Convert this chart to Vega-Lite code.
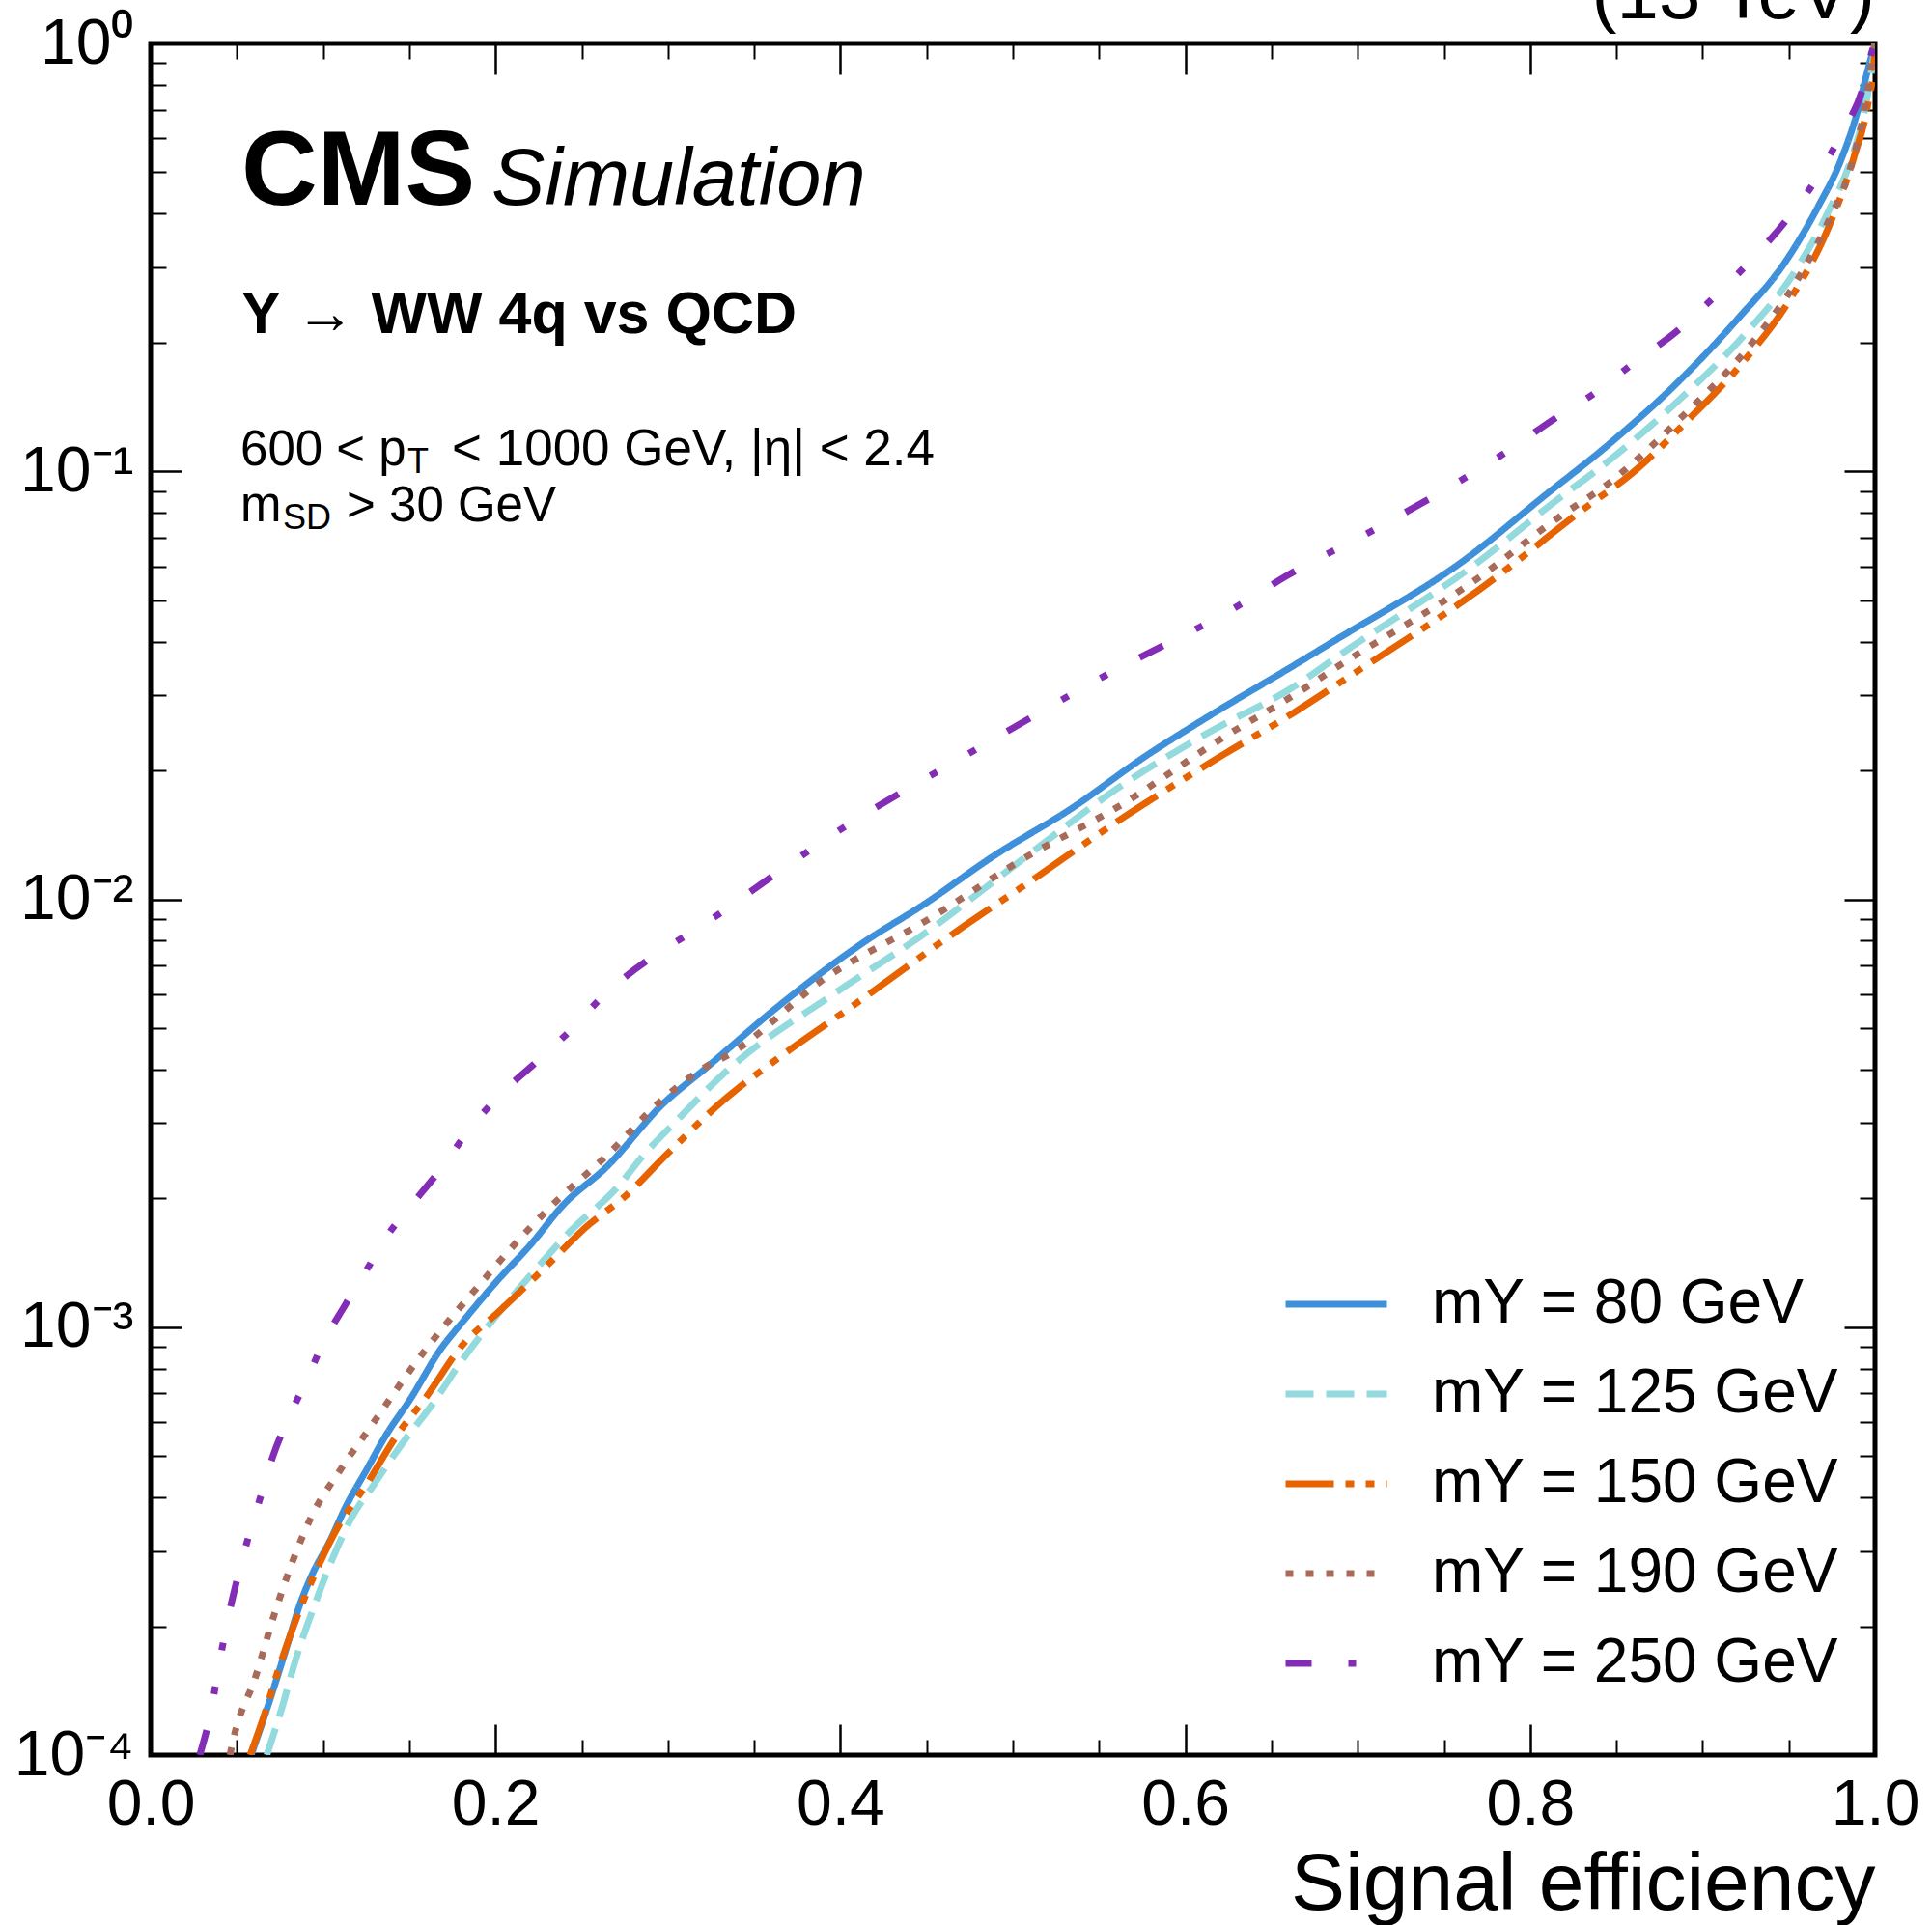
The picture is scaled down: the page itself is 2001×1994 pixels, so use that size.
{
  "$schema": "https://vega.github.io/schema/vega-lite/v6.json",
  "width": 1786,
  "height": 1773,
  "autosize": {"type": "none"},
  "padding": {"left": 156, "top": 45, "right": 59, "bottom": 176},
  "background": "white",
  "data": {"values": [
    {"s": "mΥ = 80 GeV", "x": 0.0583, "y": 0.0001},
    {"s": "mΥ = 80 GeV", "x": 0.0674, "y": 0.000128},
    {"s": "mΥ = 80 GeV", "x": 0.078, "y": 0.000174},
    {"s": "mΥ = 80 GeV", "x": 0.0866, "y": 0.000225},
    {"s": "mΥ = 80 GeV", "x": 0.094, "y": 0.000266},
    {"s": "mΥ = 80 GeV", "x": 0.1037, "y": 0.000315},
    {"s": "mΥ = 80 GeV", "x": 0.1134, "y": 0.000382},
    {"s": "mΥ = 80 GeV", "x": 0.1252, "y": 0.000464},
    {"s": "mΥ = 80 GeV", "x": 0.136, "y": 0.000555},
    {"s": "mΥ = 80 GeV", "x": 0.151, "y": 0.000683},
    {"s": "mΥ = 80 GeV", "x": 0.168, "y": 0.000886},
    {"s": "mΥ = 80 GeV", "x": 0.181, "y": 0.00103},
    {"s": "mΥ = 80 GeV", "x": 0.2, "y": 0.00127},
    {"s": "mΥ = 80 GeV", "x": 0.2216, "y": 0.00158},
    {"s": "mΥ = 80 GeV", "x": 0.2387, "y": 0.00192},
    {"s": "mΥ = 80 GeV", "x": 0.2645, "y": 0.00237},
    {"s": "mΥ = 80 GeV", "x": 0.2966, "y": 0.00331},
    {"s": "mΥ = 80 GeV", "x": 0.3229, "y": 0.00406},
    {"s": "mΥ = 80 GeV", "x": 0.3628, "y": 0.00557},
    {"s": "mΥ = 80 GeV", "x": 0.4143, "y": 0.00797},
    {"s": "mΥ = 80 GeV", "x": 0.4485, "y": 0.00973},
    {"s": "mΥ = 80 GeV", "x": 0.4886, "y": 0.0126},
    {"s": "mΥ = 80 GeV", "x": 0.534, "y": 0.0163},
    {"s": "mΥ = 80 GeV", "x": 0.577, "y": 0.0216},
    {"s": "mΥ = 80 GeV", "x": 0.6125, "y": 0.0266},
    {"s": "mΥ = 80 GeV", "x": 0.663, "y": 0.0352},
    {"s": "mΥ = 80 GeV", "x": 0.687, "y": 0.0403},
    {"s": "mΥ = 80 GeV", "x": 0.762, "y": 0.0621},
    {"s": "mΥ = 80 GeV", "x": 0.8085, "y": 0.0878},
    {"s": "mΥ = 80 GeV", "x": 0.8458, "y": 0.1158},
    {"s": "mΥ = 80 GeV", "x": 0.8832, "y": 0.158},
    {"s": "mΥ = 80 GeV", "x": 0.9205, "y": 0.2275},
    {"s": "mΥ = 80 GeV", "x": 0.9485, "y": 0.311},
    {"s": "mΥ = 80 GeV", "x": 0.9672, "y": 0.417},
    {"s": "mΥ = 80 GeV", "x": 0.98, "y": 0.531},
    {"s": "mΥ = 80 GeV", "x": 0.9896, "y": 0.689},
    {"s": "mΥ = 80 GeV", "x": 0.9952, "y": 0.848},
    {"s": "mΥ = 80 GeV", "x": 1.0, "y": 1.0},
    {"s": "mΥ = 125 GeV", "x": 0.0674, "y": 0.0001},
    {"s": "mΥ = 125 GeV", "x": 0.0759, "y": 0.000128},
    {"s": "mΥ = 125 GeV", "x": 0.0845, "y": 0.000169},
    {"s": "mΥ = 125 GeV", "x": 0.0952, "y": 0.000225},
    {"s": "mΥ = 125 GeV", "x": 0.106, "y": 0.000291},
    {"s": "mΥ = 125 GeV", "x": 0.1166, "y": 0.000359},
    {"s": "mΥ = 125 GeV", "x": 0.1295, "y": 0.000429},
    {"s": "mΥ = 125 GeV", "x": 0.1467, "y": 0.00054},
    {"s": "mΥ = 125 GeV", "x": 0.1638, "y": 0.000664},
    {"s": "mΥ = 125 GeV", "x": 0.1788, "y": 0.000817},
    {"s": "mΥ = 125 GeV", "x": 0.2002, "y": 0.00106},
    {"s": "mΥ = 125 GeV", "x": 0.2216, "y": 0.00134},
    {"s": "mΥ = 125 GeV", "x": 0.243, "y": 0.00167},
    {"s": "mΥ = 125 GeV", "x": 0.271, "y": 0.00213},
    {"s": "mΥ = 125 GeV", "x": 0.2857, "y": 0.00252},
    {"s": "mΥ = 125 GeV", "x": 0.303, "y": 0.00298},
    {"s": "mΥ = 125 GeV", "x": 0.3343, "y": 0.00398},
    {"s": "mΥ = 125 GeV", "x": 0.397, "y": 0.00604},
    {"s": "mΥ = 125 GeV", "x": 0.4485, "y": 0.0083},
    {"s": "mΥ = 125 GeV", "x": 0.5056, "y": 0.0124},
    {"s": "mΥ = 125 GeV", "x": 0.5627, "y": 0.0184},
    {"s": "mΥ = 125 GeV", "x": 0.6125, "y": 0.0244},
    {"s": "mΥ = 125 GeV", "x": 0.663, "y": 0.0314},
    {"s": "mΥ = 125 GeV", "x": 0.691, "y": 0.0376},
    {"s": "mΥ = 125 GeV", "x": 0.769, "y": 0.061},
    {"s": "mΥ = 125 GeV", "x": 0.814, "y": 0.0848},
    {"s": "mΥ = 125 GeV", "x": 0.8458, "y": 0.106},
    {"s": "mΥ = 125 GeV", "x": 0.887, "y": 0.1476},
    {"s": "mΥ = 125 GeV", "x": 0.9243, "y": 0.2086},
    {"s": "mΥ = 125 GeV", "x": 0.954, "y": 0.295},
    {"s": "mΥ = 125 GeV", "x": 0.9727, "y": 0.403},
    {"s": "mΥ = 125 GeV", "x": 0.9858, "y": 0.531},
    {"s": "mΥ = 125 GeV", "x": 0.9933, "y": 0.677},
    {"s": "mΥ = 125 GeV", "x": 0.998, "y": 0.863},
    {"s": "mΥ = 125 GeV", "x": 1.0, "y": 1.0},
    {"s": "mΥ = 150 GeV", "x": 0.0577, "y": 0.0001},
    {"s": "mΥ = 150 GeV", "x": 0.065, "y": 0.000121},
    {"s": "mΥ = 150 GeV", "x": 0.0738, "y": 0.000157},
    {"s": "mΥ = 150 GeV", "x": 0.0866, "y": 0.000219},
    {"s": "mΥ = 150 GeV", "x": 0.0974, "y": 0.000277},
    {"s": "mΥ = 150 GeV", "x": 0.11, "y": 0.000349},
    {"s": "mΥ = 150 GeV", "x": 0.1252, "y": 0.000429},
    {"s": "mΥ = 150 GeV", "x": 0.1423, "y": 0.000555},
    {"s": "mΥ = 150 GeV", "x": 0.1595, "y": 0.000684},
    {"s": "mΥ = 150 GeV", "x": 0.181, "y": 0.00091},
    {"s": "mΥ = 150 GeV", "x": 0.2023, "y": 0.00109},
    {"s": "mΥ = 150 GeV", "x": 0.228, "y": 0.00137},
    {"s": "mΥ = 150 GeV", "x": 0.2537, "y": 0.00173},
    {"s": "mΥ = 150 GeV", "x": 0.275, "y": 0.00202},
    {"s": "mΥ = 150 GeV", "x": 0.3, "y": 0.00255},
    {"s": "mΥ = 150 GeV", "x": 0.3326, "y": 0.0034},
    {"s": "mΥ = 150 GeV", "x": 0.3628, "y": 0.00422},
    {"s": "mΥ = 150 GeV", "x": 0.4086, "y": 0.00569},
    {"s": "mΥ = 150 GeV", "x": 0.4714, "y": 0.00864},
    {"s": "mΥ = 150 GeV", "x": 0.5056, "y": 0.0107},
    {"s": "mΥ = 150 GeV", "x": 0.5627, "y": 0.0154},
    {"s": "mΥ = 150 GeV", "x": 0.619, "y": 0.0214},
    {"s": "mΥ = 150 GeV", "x": 0.663, "y": 0.0273},
    {"s": "mΥ = 150 GeV", "x": 0.6928, "y": 0.0327},
    {"s": "mΥ = 150 GeV", "x": 0.771, "y": 0.0531},
    {"s": "mΥ = 150 GeV", "x": 0.8365, "y": 0.0848},
    {"s": "mΥ = 150 GeV", "x": 0.857, "y": 0.0974},
    {"s": "mΥ = 150 GeV", "x": 0.8906, "y": 0.1307},
    {"s": "mΥ = 150 GeV", "x": 0.9243, "y": 0.1817},
    {"s": "mΥ = 150 GeV", "x": 0.952, "y": 0.257},
    {"s": "mΥ = 150 GeV", "x": 0.9727, "y": 0.369},
    {"s": "mΥ = 150 GeV", "x": 0.9877, "y": 0.541},
    {"s": "mΥ = 150 GeV", "x": 0.996, "y": 0.726},
    {"s": "mΥ = 150 GeV", "x": 0.9993, "y": 0.893},
    {"s": "mΥ = 150 GeV", "x": 1.0, "y": 1.0},
    {"s": "mΥ = 190 GeV", "x": 0.046, "y": 0.0001},
    {"s": "mΥ = 190 GeV", "x": 0.048, "y": 0.000109},
    {"s": "mΥ = 190 GeV", "x": 0.061, "y": 0.000153},
    {"s": "mΥ = 190 GeV", "x": 0.0717, "y": 0.000213},
    {"s": "mΥ = 190 GeV", "x": 0.0824, "y": 0.000284},
    {"s": "mΥ = 190 GeV", "x": 0.093, "y": 0.000359},
    {"s": "mΥ = 190 GeV", "x": 0.11, "y": 0.000464},
    {"s": "mΥ = 190 GeV", "x": 0.1295, "y": 0.0006},
    {"s": "mΥ = 190 GeV", "x": 0.151, "y": 0.000798},
    {"s": "mΥ = 190 GeV", "x": 0.168, "y": 0.00098},
    {"s": "mΥ = 190 GeV", "x": 0.1895, "y": 0.00124},
    {"s": "mΥ = 190 GeV", "x": 0.211, "y": 0.00156},
    {"s": "mΥ = 190 GeV", "x": 0.2324, "y": 0.00192},
    {"s": "mΥ = 190 GeV", "x": 0.265, "y": 0.00253},
    {"s": "mΥ = 190 GeV", "x": 0.2966, "y": 0.0034},
    {"s": "mΥ = 190 GeV", "x": 0.3224, "y": 0.00407},
    {"s": "mΥ = 190 GeV", "x": 0.3343, "y": 0.00431},
    {"s": "mΥ = 190 GeV", "x": 0.3914, "y": 0.00655},
    {"s": "mΥ = 190 GeV", "x": 0.4513, "y": 0.00899},
    {"s": "mΥ = 190 GeV", "x": 0.5056, "y": 0.0124},
    {"s": "mΥ = 190 GeV", "x": 0.5627, "y": 0.0166},
    {"s": "mΥ = 190 GeV", "x": 0.62, "y": 0.0236},
    {"s": "mΥ = 190 GeV", "x": 0.6686, "y": 0.031},
    {"s": "mΥ = 190 GeV", "x": 0.689, "y": 0.0351},
    {"s": "mΥ = 190 GeV", "x": 0.769, "y": 0.056},
    {"s": "mΥ = 190 GeV", "x": 0.816, "y": 0.0778},
    {"s": "mΥ = 190 GeV", "x": 0.8458, "y": 0.094},
    {"s": "mΥ = 190 GeV", "x": 0.8888, "y": 0.135},
    {"s": "mΥ = 190 GeV", "x": 0.928, "y": 0.198},
    {"s": "mΥ = 190 GeV", "x": 0.956, "y": 0.285},
    {"s": "mΥ = 190 GeV", "x": 0.9727, "y": 0.382},
    {"s": "mΥ = 190 GeV", "x": 0.9858, "y": 0.513},
    {"s": "mΥ = 190 GeV", "x": 0.9942, "y": 0.713},
    {"s": "mΥ = 190 GeV", "x": 0.998, "y": 0.893},
    {"s": "mΥ = 190 GeV", "x": 1.0, "y": 1.0},
    {"s": "mΥ = 250 GeV", "x": 0.0285, "y": 0.0001},
    {"s": "mΥ = 250 GeV", "x": 0.0352, "y": 0.000128},
    {"s": "mΥ = 250 GeV", "x": 0.0395, "y": 0.000161},
    {"s": "mΥ = 250 GeV", "x": 0.0448, "y": 0.000208},
    {"s": "mΥ = 250 GeV", "x": 0.05, "y": 0.000256},
    {"s": "mΥ = 250 GeV", "x": 0.0567, "y": 0.000323},
    {"s": "mΥ = 250 GeV", "x": 0.0642, "y": 0.000407},
    {"s": "mΥ = 250 GeV", "x": 0.0706, "y": 0.000495},
    {"s": "mΥ = 250 GeV", "x": 0.0802, "y": 0.000616},
    {"s": "mΥ = 250 GeV", "x": 0.0909, "y": 0.000758},
    {"s": "mΥ = 250 GeV", "x": 0.0995, "y": 0.00091},
    {"s": "mΥ = 250 GeV", "x": 0.1124, "y": 0.00112},
    {"s": "mΥ = 250 GeV", "x": 0.1252, "y": 0.00136},
    {"s": "mΥ = 250 GeV", "x": 0.137, "y": 0.00163},
    {"s": "mΥ = 250 GeV", "x": 0.1531, "y": 0.00197},
    {"s": "mΥ = 250 GeV", "x": 0.17, "y": 0.00239},
    {"s": "mΥ = 250 GeV", "x": 0.184, "y": 0.00287},
    {"s": "mΥ = 250 GeV", "x": 0.2023, "y": 0.00348},
    {"s": "mΥ = 250 GeV", "x": 0.2238, "y": 0.00417},
    {"s": "mΥ = 250 GeV", "x": 0.2419, "y": 0.00487},
    {"s": "mΥ = 250 GeV", "x": 0.26, "y": 0.00581},
    {"s": "mΥ = 250 GeV", "x": 0.3315, "y": 0.00935},
    {"s": "mΥ = 250 GeV", "x": 0.4029, "y": 0.0148},
    {"s": "mΥ = 250 GeV", "x": 0.477, "y": 0.0222},
    {"s": "mΥ = 250 GeV", "x": 0.554, "y": 0.0334},
    {"s": "mΥ = 250 GeV", "x": 0.6314, "y": 0.0487},
    {"s": "mΥ = 250 GeV", "x": 0.6585, "y": 0.0569},
    {"s": "mΥ = 250 GeV", "x": 0.7115, "y": 0.0738},
    {"s": "mΥ = 250 GeV", "x": 0.788, "y": 0.1123},
    {"s": "mΥ = 250 GeV", "x": 0.8132, "y": 0.132},
    {"s": "mΥ = 250 GeV", "x": 0.8365, "y": 0.1515},
    {"s": "mΥ = 250 GeV", "x": 0.8607, "y": 0.18},
    {"s": "mΥ = 250 GeV", "x": 0.886, "y": 0.214},
    {"s": "mΥ = 250 GeV", "x": 0.9056, "y": 0.253},
    {"s": "mΥ = 250 GeV", "x": 0.928, "y": 0.311},
    {"s": "mΥ = 250 GeV", "x": 0.9485, "y": 0.386},
    {"s": "mΥ = 250 GeV", "x": 0.9643, "y": 0.471},
    {"s": "mΥ = 250 GeV", "x": 0.98, "y": 0.61},
    {"s": "mΥ = 250 GeV", "x": 0.9929, "y": 0.785},
    {"s": "mΥ = 250 GeV", "x": 0.9989, "y": 0.975},
    {"s": "mΥ = 250 GeV", "x": 1.0, "y": 1.0}
  ]},
  "layer": [
    {
      "mark": {"type": "line", "strokeWidth": 7, "clip": true, "interpolate": "monotone"},
      "encoding": {
        "x": {"field": "x", "type": "quantitative", "scale": {"domain": [0, 1], "nice": false},
          "axis": {"orient": "bottom", "values": [0, 0.2, 0.4, 0.6, 0.8, 1], "format": ".1f", "ticks": false, "domain": false, "grid": false,
            "labelFontSize": 66, "labelPadding": 19, "labelFlush": false, "labelOverlap": false,
            "title": "Signal efficiency", "titleFontSize": 84, "titleFontWeight": "normal", "titleAnchor": "end", "titleBaseline": "alphabetic", "titleY": 159}},
        "y": {"field": "y", "type": "quantitative", "scale": {"type": "log", "domain": [0.0001, 1], "nice": false},
          "axis": {"orient": "left", "values": [0.0001, 0.001, 0.01, 0.1, 1], "ticks": false, "domain": false, "grid": false,
            "labelFontSize": 66, "labelPadding": 18, "labelFlush": false, "labelOverlap": false, "title": null,
            "labelExpr": "datum.value > 0.5 ? '10⁰' : datum.value > 0.05 ? '10⁻¹' : datum.value > 0.005 ? '10⁻²' : datum.value > 0.0005 ? '10⁻³' : '10⁻⁴'"}},
        "color": {"field": "s", "type": "nominal",
          "scale": {"domain": ["mΥ = 80 GeV", "mΥ = 125 GeV", "mΥ = 150 GeV", "mΥ = 190 GeV", "mΥ = 250 GeV"], "range": ["#3f90da", "#92dadd", "#e76300", "#a96b59", "#832db6"]},
          "legend": {"orient": "none", "legendX": 1172, "legendY": 1250, "title": null, "padding": 0, "symbolType": "stroke", "symbolSize": 11025, "symbolStrokeWidth": 7, "labelFontSize": 64, "labelOffset": 43, "rowPadding": 5, "labelLimit": 0}},
        "strokeDash": {"field": "s", "type": "nominal",
          "scale": {"domain": ["mΥ = 80 GeV", "mΥ = 125 GeV", "mΥ = 150 GeV", "mΥ = 190 GeV", "mΥ = 250 GeV"], "range": [[1, 0], [29, 13], [50, 12, 9, 12, 9, 12], [8, 13], [27, 38, 8, 38, 8, 38]]},
          "legend": {"orient": "none", "legendX": 1172, "legendY": 1250, "title": null, "padding": 0, "symbolType": "stroke", "symbolSize": 11025, "symbolStrokeWidth": 7, "labelFontSize": 64, "labelOffset": 43, "rowPadding": 5, "labelLimit": 0}}
      }
    },
    {
      "mark": {"type": "point", "opacity": 0},
      "encoding": {
        "x": {"field": "x", "type": "quantitative", "scale": {"domain": [0, 1], "nice": false},
          "axis": {"orient": "bottom", "values": [0, 0.2, 0.4, 0.6, 0.8, 1], "labels": false, "domain": false, "grid": false, "tickSize": -32, "tickWidth": 2.5, "title": null}},
        "y": {"field": "y", "type": "quantitative", "scale": {"type": "log", "domain": [0.0001, 1], "nice": false},
          "axis": {"orient": "left", "values": [0.0001, 0.001, 0.01, 0.1, 1], "labels": false, "domain": false, "grid": false, "tickSize": -32, "tickWidth": 2.5, "title": null}}
      }
    },
    {
      "mark": {"type": "point", "opacity": 0},
      "encoding": {
        "x": {"field": "x", "type": "quantitative", "scale": {"domain": [0, 1], "nice": false},
          "axis": {"orient": "bottom", "values": [0.05, 0.1, 0.15, 0.25, 0.3, 0.35, 0.45, 0.5, 0.55, 0.65, 0.7, 0.75, 0.85, 0.9, 0.95], "labels": false, "domain": false, "grid": false, "tickSize": -16, "tickWidth": 2, "title": null}},
        "y": {"field": "y", "type": "quantitative", "scale": {"type": "log", "domain": [0.0001, 1], "nice": false},
          "axis": {"orient": "left", "values": [0.0002, 0.0003, 0.0004, 0.0005, 0.0006, 0.0007, 0.0008, 0.0009, 0.002, 0.003, 0.004, 0.005, 0.006, 0.007, 0.008, 0.009, 0.02, 0.03, 0.04, 0.05, 0.06, 0.07, 0.08, 0.09, 0.2, 0.3, 0.4, 0.5, 0.6, 0.7, 0.8, 0.9], "labels": false, "domain": false, "grid": false, "tickSize": -16, "tickWidth": 2, "title": null}}
      }
    },
    {
      "mark": {"type": "point", "opacity": 0},
      "encoding": {
        "x": {"field": "x", "type": "quantitative", "scale": {"domain": [0, 1], "nice": false},
          "axis": {"orient": "top", "values": [0, 0.2, 0.4, 0.6, 0.8, 1], "labels": false, "domain": false, "grid": false, "tickSize": -32, "tickWidth": 2.5, "title": null}},
        "y": {"field": "y", "type": "quantitative", "scale": {"type": "log", "domain": [0.0001, 1], "nice": false},
          "axis": {"orient": "right", "values": [0.0001, 0.001, 0.01, 0.1, 1], "labels": false, "domain": false, "grid": false, "tickSize": -32, "tickWidth": 2.5, "title": null}}
      }
    },
    {
      "mark": {"type": "point", "opacity": 0},
      "encoding": {
        "x": {"field": "x", "type": "quantitative", "scale": {"domain": [0, 1], "nice": false},
          "axis": {"orient": "top", "values": [0.05, 0.1, 0.15, 0.25, 0.3, 0.35, 0.45, 0.5, 0.55, 0.65, 0.7, 0.75, 0.85, 0.9, 0.95], "labels": false, "domain": false, "grid": false, "tickSize": -16, "tickWidth": 2, "title": null}},
        "y": {"field": "y", "type": "quantitative", "scale": {"type": "log", "domain": [0.0001, 1], "nice": false},
          "axis": {"orient": "right", "values": [0.0002, 0.0003, 0.0004, 0.0005, 0.0006, 0.0007, 0.0008, 0.0009, 0.002, 0.003, 0.004, 0.005, 0.006, 0.007, 0.008, 0.009, 0.02, 0.03, 0.04, 0.05, 0.06, 0.07, 0.08, 0.09, 0.2, 0.3, 0.4, 0.5, 0.6, 0.7, 0.8, 0.9], "labels": false, "domain": false, "grid": false, "tickSize": -16, "tickWidth": 2, "title": null}}
      }
    },
    {
      "data": {"values": [{}]},
      "mark": {"type": "text", "text": "(13 TeV)", "fontSize": 78, "align": "right", "baseline": "alphabetic", "color": "black"},
      "encoding": {
        "x": {"datum": 1.0, "type": "quantitative", "scale": {"domain": [0, 1], "nice": false}, "axis": null},
        "y": {"datum": 1.1446, "type": "quantitative", "scale": {"type": "log", "domain": [0.0001, 1], "nice": false}, "axis": null}
      }
    },
    {
      "data": {"values": [{}]},
      "mark": {"type": "text", "text": "CMS", "fontSize": 109, "fontWeight": "bold", "align": "left", "baseline": "alphabetic", "color": "black"},
      "encoding": {
        "x": {"datum": 0.0526, "type": "quantitative", "scale": {"domain": [0, 1], "nice": false}, "axis": null},
        "y": {"datum": 0.4199, "type": "quantitative", "scale": {"type": "log", "domain": [0.0001, 1], "nice": false}, "axis": null}
      }
    },
    {
      "data": {"values": [{}]},
      "mark": {"type": "text", "text": "Simulation", "fontSize": 83, "fontStyle": "italic", "align": "left", "baseline": "alphabetic", "color": "black"},
      "encoding": {
        "x": {"datum": 0.1977, "type": "quantitative", "scale": {"domain": [0, 1], "nice": false}, "axis": null},
        "y": {"datum": 0.4199, "type": "quantitative", "scale": {"type": "log", "domain": [0.0001, 1], "nice": false}, "axis": null}
      }
    },
    {
      "data": {"values": [{}]},
      "mark": {"type": "text", "text": "Y → WW 4q vs QCD", "fontSize": 61, "fontWeight": "bold", "align": "left", "baseline": "alphabetic", "color": "black"},
      "encoding": {
        "x": {"datum": 0.0526, "type": "quantitative", "scale": {"domain": [0, 1], "nice": false}, "axis": null},
        "y": {"datum": 0.2104, "type": "quantitative", "scale": {"type": "log", "domain": [0.0001, 1], "nice": false}, "axis": null}
      }
    },
    {
      "data": {"values": [{}]},
      "mark": {"type": "text", "text": "600 < p", "fontSize": 51, "align": "left", "baseline": "alphabetic", "color": "black"},
      "encoding": {
        "x": {"datum": 0.0521, "type": "quantitative", "scale": {"domain": [0, 1], "nice": false}, "axis": null},
        "y": {"datum": 0.1033, "type": "quantitative", "scale": {"type": "log", "domain": [0.0001, 1], "nice": false}, "axis": null}
      }
    },
    {
      "data": {"values": [{}]},
      "mark": {"type": "text", "text": "T", "fontSize": 36, "align": "left", "baseline": "alphabetic", "color": "black"},
      "encoding": {
        "x": {"datum": 0.149, "type": "quantitative", "scale": {"domain": [0, 1], "nice": false}, "axis": null},
        "y": {"datum": 0.0991, "type": "quantitative", "scale": {"type": "log", "domain": [0.0001, 1], "nice": false}, "axis": null}
      }
    },
    {
      "data": {"values": [{}]},
      "mark": {"type": "text", "text": "< 1000 GeV, |η| < 2.4", "fontSize": 53, "align": "left", "baseline": "alphabetic", "color": "black"},
      "encoding": {
        "x": {"datum": 0.1747, "type": "quantitative", "scale": {"domain": [0, 1], "nice": false}, "axis": null},
        "y": {"datum": 0.1033, "type": "quantitative", "scale": {"type": "log", "domain": [0.0001, 1], "nice": false}, "axis": null}
      }
    },
    {
      "data": {"values": [{}]},
      "mark": {"type": "text", "text": "m", "fontSize": 51, "align": "left", "baseline": "alphabetic", "color": "black"},
      "encoding": {
        "x": {"datum": 0.0521, "type": "quantitative", "scale": {"domain": [0, 1], "nice": false}, "axis": null},
        "y": {"datum": 0.0764, "type": "quantitative", "scale": {"type": "log", "domain": [0.0001, 1], "nice": false}, "axis": null}
      }
    },
    {
      "data": {"values": [{}]},
      "mark": {"type": "text", "text": "SD", "fontSize": 36, "align": "left", "baseline": "alphabetic", "color": "black"},
      "encoding": {
        "x": {"datum": 0.0767, "type": "quantitative", "scale": {"domain": [0, 1], "nice": false}, "axis": null},
        "y": {"datum": 0.0733, "type": "quantitative", "scale": {"type": "log", "domain": [0.0001, 1], "nice": false}, "axis": null}
      }
    },
    {
      "data": {"values": [{}]},
      "mark": {"type": "text", "text": "> 30 GeV", "fontSize": 51, "align": "left", "baseline": "alphabetic", "color": "black"},
      "encoding": {
        "x": {"datum": 0.1137, "type": "quantitative", "scale": {"domain": [0, 1], "nice": false}, "axis": null},
        "y": {"datum": 0.0764, "type": "quantitative", "scale": {"type": "log", "domain": [0.0001, 1], "nice": false}, "axis": null}
      }
    }
  ],
  "resolve": {"axis": {"x": "independent", "y": "independent"}},
  "config": {
    "font": "Liberation Sans",
    "view": {"stroke": "black", "strokeWidth": 5},
    "axis": {"labelFont": "Liberation Sans", "titleFont": "Liberation Sans", "labelColor": "black", "titleColor": "black", "tickColor": "black"},
    "legend": {"labelFont": "Liberation Sans", "labelColor": "black"},
    "text": {"font": "Liberation Sans"}
  }
}
